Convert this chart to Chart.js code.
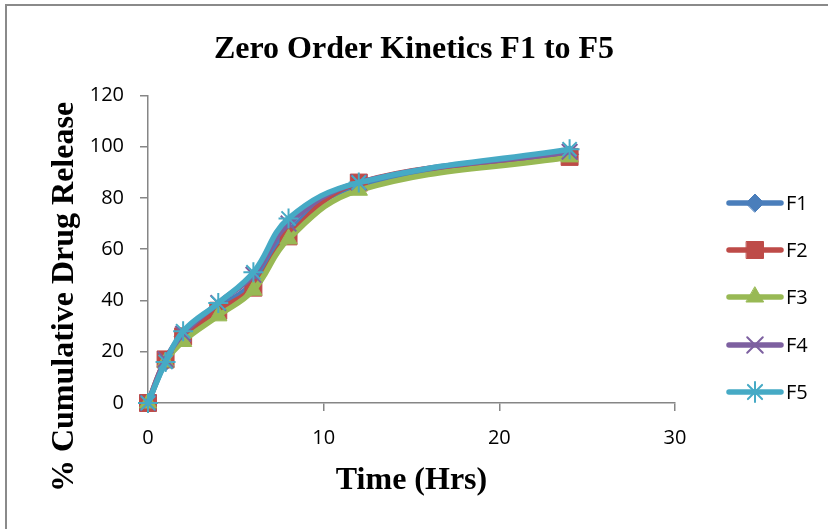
<!DOCTYPE html>
<html>
<head>
<meta charset="utf-8">
<script src="https://cdn.jsdelivr.net/npm/chart.js@4.4.1/dist/chart.umd.min.js"></script>
<style>
  html, body { margin: 0; padding: 0; background: #fff; }
  #wrap { position: relative; width: 828px; height: 529px; }
  #frame { position: absolute; left: 5px; top: 4px; right: 0; bottom: 0;
           border-left: 2px solid #8a8a8a; border-top: 2px solid #8a8a8a; pointer-events: none; }
</style>
</head>
<body>
<div id="wrap">
  <canvas id="kinetics" width="828" height="529"></canvas>
  <div id="frame"></div>
</div>
<script>
// 時間 (Hrs)
const times = [0, 1, 2, 4, 6, 8, 12, 24];
// % cumulative drug release
const f1 = [0, 16, 26, 37, 47, 67, 85, 97];
const f2 = [0, 17, 26, 36, 45, 65, 86, 96];
const f3 = [0, 16, 24, 34, 44, 64, 83, 96];
const f4 = [0, 17, 27, 39, 50, 70, 86, 98];
const f5 = [0, 16, 28, 39, 51, 72, 86, 99];

const seriesNames = ['F1', 'F2', 'F3', 'F4', 'F5'];
const seriesData = [f1, f2, f3, f4, f5];
const colors = ['#4A7EBB', '#BE4B48', '#98B954', '#7D60A0', '#46AAC5'];
const markers = ['rectRot', 'rect', 'triangle', 'crossRot', 'star'];
const markerSize = [9, 12, 10, 11, 10];

const toPoints = arr => arr.map((v, i) => ({ x: times[i], y: v }));

const datasets = seriesNames.map((name, i) => ({
    label: name,
    data: toPoints(seriesData[i]),
    borderColor: colors[i],
    backgroundColor: colors[i],
    pointBackgroundColor: colors[i],
    pointBorderColor: colors[i],
    pointStyle: markers[i],
    pointRadius: markerSize[i],
    pointBorderWidth: (i >= 3) ? 2 : 1,
    borderWidth: 5.5,
    tension: 0.4,
    clip: false,
    order: seriesNames.length - i   // F5 on top
}));

const serifBold = '"Liberation Serif", "Times New Roman", serif';
const titleFont = { family: serifBold, size: 32, weight: 'bold' };
const tickFont = { family: '"Open Sans", sans-serif', size: 20 };
const axisGray = '#868686';

// 凡例 (線 + マーカー) と縦軸タイトル
const extras = {
    id: 'extras',
    afterDraw(chart) {
        const ctx = chart.ctx;
        const ys = [203, 250, 297, 345, 392];
        chart.data.datasets.forEach((ds, i) => {
            const y = ys[i];
            ctx.save();
            ctx.strokeStyle = ds.borderColor;
            ctx.lineWidth = 5.5;
            ctx.lineCap = 'round';
            ctx.beginPath();
            ctx.moveTo(729, y);
            ctx.lineTo(781, y);
            ctx.stroke();
            ctx.fillStyle = ds.backgroundColor;
            ctx.lineWidth = ds.pointBorderWidth;
            if (Chart.helpers && Chart.helpers.drawPoint) {
                Chart.helpers.drawPoint(ctx, {
                    pointStyle: ds.pointStyle,
                    radius: ds.pointRadius,
                    borderWidth: ds.pointBorderWidth,
                    rotation: 0
                }, 755, y);
            }
            ctx.fillStyle = '#000';
            ctx.font = '20px "Open Sans", sans-serif';
            ctx.textBaseline = 'middle';
            ctx.textAlign = 'left';
            ctx.fillText(ds.label, 786, y + 1);
            ctx.restore();
        });

        ctx.save();
        ctx.translate(65, 297);
        ctx.rotate(-Math.PI / 2);
        ctx.fillStyle = '#000';
        ctx.font = 'bold 32px ' + serifBold;
        ctx.textAlign = 'center';
        ctx.textBaseline = 'middle';
        ctx.fillText('% Cumulative Drug Release', 0, 0);
        ctx.restore();
    }
};

new Chart(document.getElementById('kinetics').getContext('2d'), {
    type: 'line',
    data: { datasets: datasets },
    options: {
        responsive: false,
        animation: false,
        layout: { padding: 0 },
        plugins: {
            legend: { display: false },
            tooltip: { enabled: false },
            title: {
                display: true,
                text: 'Zero Order Kinetics F1 to F5',
                color: '#000',
                font: titleFont,
                padding: { top: 31, bottom: 26 }
            }
        },
        scales: {
            x: {
                type: 'linear',
                min: 0,
                max: 30,
                ticks: { stepSize: 10, color: '#000', font: tickFont, padding: 15 },
                grid: { drawOnChartArea: false, color: axisGray, tickLength: 8, lineWidth: 1.5 },
                border: { color: axisGray, width: 1.5 },
                title: { display: true, text: 'Time (Hrs)', color: '#000', font: titleFont, padding: { top: 0, bottom: 29 } },
                afterFit(scale) { scale.height = 126; }
            },
            y: {
                min: 0,
                max: 120,
                ticks: { stepSize: 20, color: '#000', font: tickFont, padding: 16 },
                grid: { drawOnChartArea: false, color: axisGray, tickLength: 8, lineWidth: 1.5 },
                border: { color: axisGray, width: 1.5 },
                afterFit(scale) { scale.width = 148; }
            },
            // 右側の凡例スペース
            legendSpace: {
                type: 'linear',
                position: 'right',
                display: true,
                ticks: { display: false },
                grid: { display: false },
                border: { display: false },
                afterFit(scale) { scale.width = 153; }
            }
        }
    },
    plugins: [extras]
});
</script>
</body>
</html>
